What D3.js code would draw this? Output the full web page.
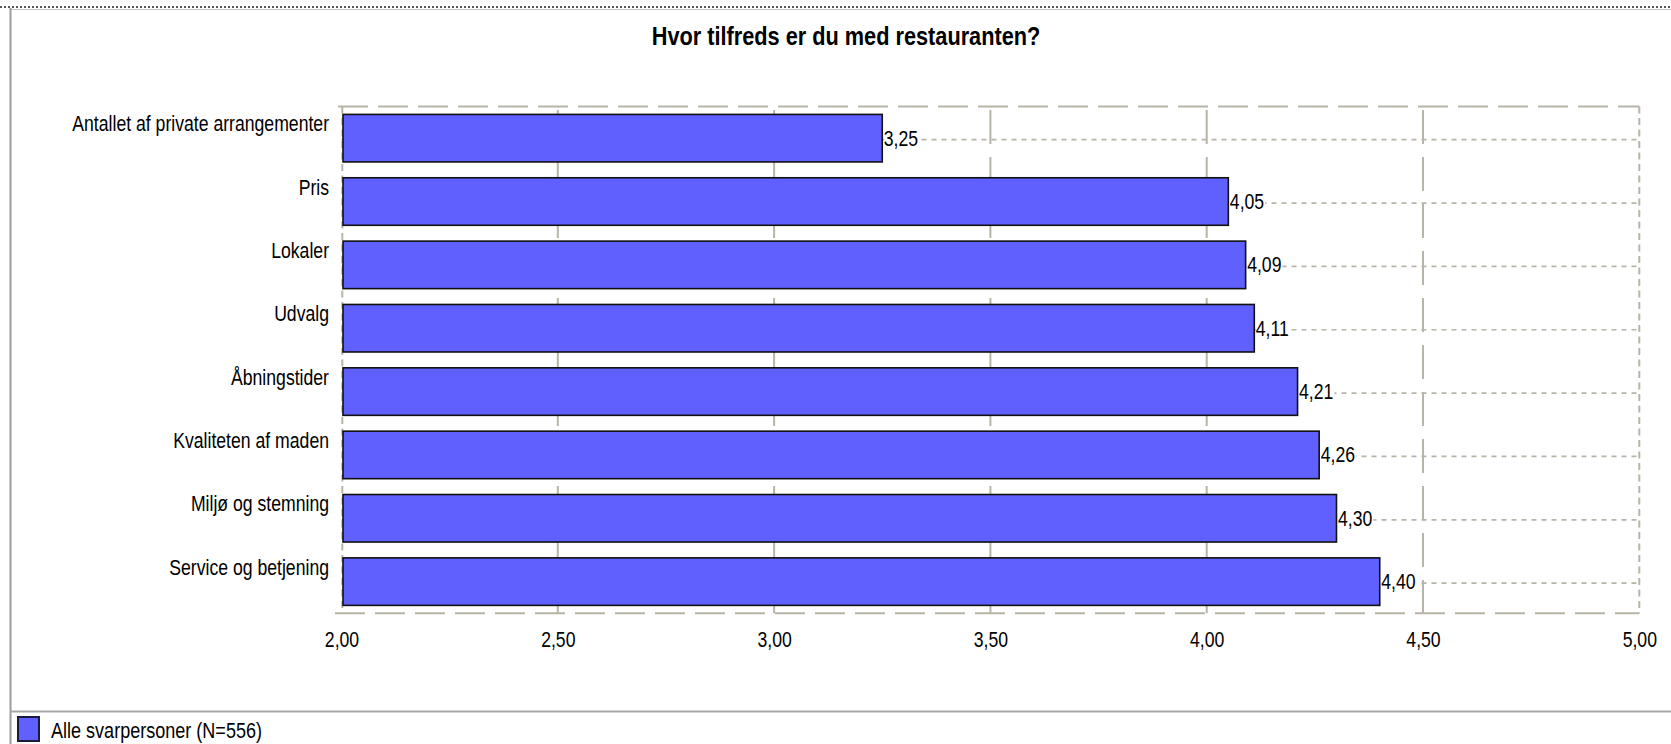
<!DOCTYPE html>
<html>
<head>
<meta charset="utf-8">
<script src="https://cdn.jsdelivr.net/npm/d3@7"></script>
<style>
  html, body { margin: 0; padding: 0; background: #ffffff; }
  svg { display: block; }
  text { font-family: 'Liberation Sans', Arial, sans-serif; fill: #000; }
</style>
</head>
<body>
<svg id="chart" width="1671" height="744"></svg>
<script>
// ---- data ----
const titleText = "Hvor tilfreds er du med restauranten?";
const categories = [
  "Antallet af private arrangementer",
  "Pris",
  "Lokaler",
  "Udvalg",
  "Åbningstider",
  "Kvaliteten af maden",
  "Miljø og stemning",
  "Service og betjening"
];
const values = [3.25, 4.05, 4.09, 4.11, 4.21, 4.26, 4.30, 4.40];
const xTickValues = [2.0, 2.5, 3.0, 3.5, 4.0, 4.5, 5.0];
const xDomain = [2, 5];
const legendLabel = "Alle svarpersoner (N=556)";

// ---- layout ----
const W = 1671, H = 744;
const plot = { left: 341.5, right: 1639.3, top: 106.5, bottom: 613.3 };
const gridColor = "#b8b4a8";
const barFill = "#6060ff";
const fontSize = 21.5;
const narrow = 0.82; // emulate a narrow face

const locale = d3.formatLocale({ decimal: ",", thousands: ".", grouping: [3], currency: ["", " kr"] });
const fmt = locale.format(".2f");

const svg = d3.select("#chart");

// squeeze a text horizontally around its anchor point
function squeeze(sel) {
  sel.each(function () {
    const t = d3.select(this);
    const tx = +t.attr("x") || 0, ty = +t.attr("y") || 0;
    t.attr("x", 0).attr("y", 0)
     .attr("transform", `translate(${tx},${ty}) scale(${narrow},1)`);
  });
}

const x = d3.scaleLinear().domain(xDomain).range([plot.left, plot.right]);
const y = d3.scaleBand().domain(categories).range([plot.top, plot.bottom])
  .paddingInner(0.25).paddingOuter(0.125);

// ---- outer frame ----
svg.append("line").attr("x1", 0).attr("x2", W).attr("y1", 7).attr("y2", 7)
  .attr("stroke", "#222").attr("stroke-width", 1.5).attr("stroke-dasharray", "2,2");
svg.append("line").attr("x1", 10).attr("x2", W).attr("y1", 9.5).attr("y2", 9.5)
  .attr("stroke", "#c4c4c4").attr("stroke-width", 1);
svg.append("line").attr("x1", 10.5).attr("x2", 10.5).attr("y1", 8).attr("y2", H)
  .attr("stroke", "#9c9c9c").attr("stroke-width", 2);
svg.append("line").attr("x1", 10).attr("x2", W).attr("y1", 711.5).attr("y2", 711.5)
  .attr("stroke", "#a8a8a8").attr("stroke-width", 2);

// ---- title ----
svg.append("text").attr("x", 846).attr("y", 45).attr("text-anchor", "middle")
  .style("font-size", "26.5px").style("font-weight", "bold").text(titleText)
  .call(squeeze);

// ---- vertical gridlines ----
const g = svg.append("g");
g.selectAll("line.vgrid").data(xTickValues.filter(d => d > xDomain[0] && d < xDomain[1]))
  .join("line").attr("class", "vgrid")
  .attr("x1", d => x(d)).attr("x2", d => x(d))
  .attr("y1", plot.top + 3.5).attr("y2", plot.bottom)
  .attr("stroke", gridColor).attr("stroke-width", 2).attr("stroke-dasharray", "34,13");

// ---- plot border ----
g.append("line").attr("x1", plot.left - 3.5).attr("x2", plot.right).attr("y1", plot.top).attr("y2", plot.top)
  .attr("stroke", gridColor).attr("stroke-width", 2).attr("stroke-dasharray", "30,10");
g.append("line").attr("x1", plot.left - 6.5).attr("x2", plot.right).attr("y1", plot.bottom).attr("y2", plot.bottom)
  .attr("stroke", gridColor).attr("stroke-width", 2).attr("stroke-dasharray", "30,10");
g.append("line").attr("x1", plot.left + 0.8).attr("x2", plot.left + 0.8).attr("y1", plot.top).attr("y2", plot.bottom)
  .attr("stroke", gridColor).attr("stroke-width", 2).attr("stroke-dasharray", "7,4.5");
g.append("line").attr("x1", plot.right).attr("x2", plot.right).attr("y1", plot.top).attr("y2", plot.bottom)
  .attr("stroke", gridColor).attr("stroke-width", 2).attr("stroke-dasharray", "7,4.5");

// ---- horizontal dotted lines at bar centres ----
g.selectAll("line.hgrid").data(categories).join("line").attr("class", "hgrid")
  .attr("x1", plot.left).attr("x2", plot.right)
  .attr("y1", d => y(d) + y.bandwidth() / 2 + 1.5).attr("y2", d => y(d) + y.bandwidth() / 2 + 1.5)
  .attr("stroke", gridColor).attr("stroke-width", 1.7).attr("stroke-dasharray", "5,5");

// ---- bars ----
const data = categories.map((c, i) => ({ c, v: values[i] }));
svg.append("g").selectAll("rect").data(data).join("rect")
  .attr("x", x(xDomain[0]) + 1.5)
  .attr("y", d => y(d.c))
  .attr("width", d => x(d.v) - x(xDomain[0]) - 1.5)
  .attr("height", y.bandwidth())
  .attr("fill", barFill).attr("stroke", "#111").attr("stroke-width", 1.6);

// ---- value labels with white background ----
const lab = svg.append("g").selectAll("g").data(data).join("g");
const labTexts = lab.append("text")
  .attr("x", d => x(d.v) + 1.5)
  .attr("y", d => y(d.c) + y.bandwidth() / 2 + 7.5)
  .style("font-size", fontSize + "px")
  .text(d => fmt(d.v))
  .call(squeeze);
const svgBox = svg.node().getBoundingClientRect();
labTexts.each(function () {
  const b = this.getBoundingClientRect();
  d3.select(this.parentNode).insert("rect", "text")
    .attr("x", b.left - svgBox.left + 0.5).attr("y", b.top - svgBox.top + 2)
    .attr("width", b.width + 0.5).attr("height", b.height - 4)
    .attr("fill", "#fff");
});

// ---- axes ----
const xAxis = svg.append("g").attr("transform", `translate(0,${plot.bottom})`)
  .call(d3.axisBottom(x).tickValues(xTickValues).tickFormat(fmt).tickSize(0));
xAxis.select(".domain").remove();
xAxis.attr("font-family", null).attr("font-size", null);
xAxis.selectAll("text").attr("y", 34).attr("dy", 0)
  .style("font-size", fontSize + "px").attr("fill", "#000").call(squeeze);

const yAxis = svg.append("g").attr("transform", `translate(${plot.left},0)`)
  .call(d3.axisLeft(y).tickSize(0).tickPadding(12.5));
yAxis.select(".domain").remove();
yAxis.attr("font-family", null).attr("font-size", null);
yAxis.selectAll("text").attr("y", -7).attr("dy", 0)
  .style("font-size", fontSize + "px").attr("fill", "#000").call(squeeze);

// ---- legend ----
svg.append("rect").attr("x", 18).attr("y", 717).attr("width", 21).attr("height", 24)
  .attr("fill", barFill).attr("stroke", "#1a1a3a").attr("stroke-width", 2);
svg.append("text").attr("x", 51).attr("y", 738).style("font-size", "22px").text(legendLabel)
  .call(squeeze);
</script>
</body>
</html>
